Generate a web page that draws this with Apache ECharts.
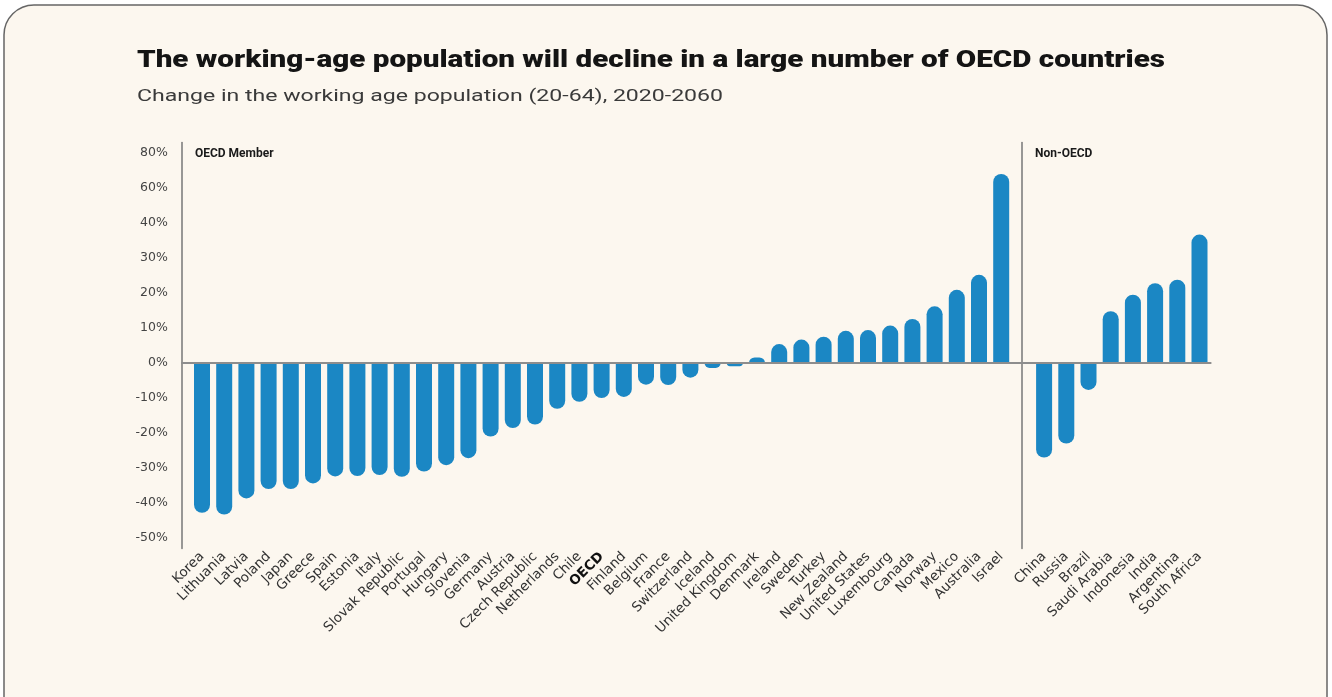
<!DOCTYPE html>
<html>
<head>
<meta charset="utf-8">
<script src="https://cdn.jsdelivr.net/npm/echarts@6/dist/echarts.min.js"></script>
<style>
html,body{margin:0;padding:0;background:#ffffff;}
#c{width:1332px;height:697px;}
</style>
</head>
<body>
<div id="c"></div>
<script>
// ---- data (values in the chart's own y-scale units) ----
const oecdCategories = ['Korea','Lithuania','Latvia','Poland','Japan','Greece','Spain','Estonia','Italy','Slovak Republic','Portugal','Hungary','Slovenia','Germany','Austria','Czech Republic','Netherlands','Chile','OECD','Finland','Belgium','France','Switzerland','Iceland','United Kingdom','Denmark','Ireland','Sweden','Turkey','New Zealand','United States','Luxembourg','Canada','Norway','Mexico','Australia','Israel'];
const oecdValues = [-42.8,-43.3,-38.7,-36,-36,-34.4,-32.4,-32.3,-32,-32.5,-31,-29.2,-27.2,-21,-18.6,-17.6,-13.1,-11.1,-10,-9.7,-6.2,-6.3,-4.2,-1.4,-0.9,1.6,5.4,6.7,7.5,9.2,9.4,10.7,12.6,16.2,20.9,25.2,54];
const nonOecdCategories = ['China','Russia','Brazil','Saudi Arabia','Indonesia','India','Argentina','South Africa'];
const nonOecdValues = [-27,-23,-7.7,14.8,19.5,22.8,23.8,36.7];
const yTickValues = [-50,-40,-30,-20,-10,0,10,20,30,40,50,60];
const yTickLabels = ['-50%','-40%','-30%','-20%','-10%','0%','10%','20%','30%','40%','60%','80%'];
const titleText = 'The working-age population will decline in a large number of OECD countries';
const subtitleText = 'Change in the working age population (20-64), 2020-2060';

const BAR = '#1b87c4';
const LABEL_FONT = 'DejaVu Sans';
const Y_MIN = -53, Y_MAX = 63;

function fitScale(text, font, target){
  const ctx = document.createElement('canvas').getContext('2d');
  ctx.font = font;
  return target / ctx.measureText(text).width;
}
function barData(vals){
  return vals.map(v => ({value: v, itemStyle: {borderRadius: v >= 0 ? [8,8,0,0] : [0,0,8,8]}}));
}
function catLabel(){
  return {
    rotate: 45, interval: 0, fontSize: 13.5, color: '#333', fontFamily: LABEL_FONT, margin: 6,
    formatter: v => v === 'OECD' ? '{b|' + v + '}' : v,
    rich: {b: {fontWeight: 'bold', fontSize: 13.5, color: '#111', fontFamily: LABEL_FONT}}
  };
}

const titleFont = '900 24px Roboto';
const subFont = '17px Roboto';
const titleScale = fitScale(titleText, titleFont, 1028);
const subScale = fitScale(subtitleText, subFont, 586);

const chart = echarts.init(document.getElementById('c'), null, {renderer: 'canvas'});
const gTop = 142.5, gBottom = 697 - 548.5;

chart.setOption({
  backgroundColor: '#ffffff',
  animation: false,
  graphic: [
    {type: 'rect', z: -10, silent: true,
     shape: {x: 4, y: 5, width: 1323, height: 740, r: 30},
     style: {fill: '#fcf7ef', stroke: '#666', lineWidth: 1.5}},
    {type: 'text', x: 137, y: 61, scaleX: titleScale, silent: true,
     style: {text: titleText, font: titleFont, fill: '#141414', align: 'left', verticalAlign: 'middle'}},
    {type: 'text', x: 137, y: 97, scaleX: subScale, silent: true,
     style: {text: subtitleText, font: subFont, fill: '#3a3a3a', align: 'left', verticalAlign: 'middle'}}
  ],
  grid: [
    {left: 190.9, right: 1332 - 1012.3, top: gTop, bottom: gBottom},
    {left: 1033, right: 1332 - 1210.6, top: gTop, bottom: gBottom},
    {left: 182, right: 1332 - 1210.6, top: gTop, bottom: gBottom}
  ],
  xAxis: [
    {type: 'category', gridIndex: 0, data: oecdCategories,
     axisLine: {show: false, onZero: false}, axisTick: {show: false}, axisLabel: catLabel()},
    {type: 'category', gridIndex: 1, data: nonOecdCategories,
     axisLine: {show: false, onZero: false}, axisTick: {show: false}, axisLabel: catLabel()},
    {type: 'value', gridIndex: 2, min: 0, max: 1, z: 20,
     axisLine: {show: true, onZero: true, lineStyle: {color: '#8d8d8d', width: 2}},
     axisTick: {show: false}, axisLabel: {show: false}, splitLine: {show: false}}
  ],
  yAxis: [
    {type: 'value', gridIndex: 0, min: Y_MIN, max: Y_MAX, offset: 9,
     name: 'OECD Member', nameLocation: 'end', nameGap: -11,
     nameTextStyle: {align: 'left', verticalAlign: 'middle', padding: [0,0,0,13], fontFamily: 'Roboto', fontWeight: 'bold', fontSize: 12, color: '#1a1a1a'},
     axisLine: {show: true, lineStyle: {color: '#777', width: 1.5}},
     axisTick: {show: false}, splitLine: {show: false},
     axisLabel: {customValues: yTickValues, margin: 14, fontSize: 12.5, color: '#444', fontFamily: LABEL_FONT,
       formatter: v => yTickLabels[yTickValues.indexOf(Math.round(v))] || ''}},
    {type: 'value', gridIndex: 1, min: Y_MIN, max: Y_MAX, offset: 11,
     name: 'Non-OECD', nameLocation: 'end', nameGap: -11,
     nameTextStyle: {align: 'left', verticalAlign: 'middle', padding: [0,0,0,13], fontFamily: 'Roboto', fontWeight: 'bold', fontSize: 12, color: '#1a1a1a'},
     axisLine: {show: true, lineStyle: {color: '#777', width: 1.5}},
     axisTick: {show: false}, splitLine: {show: false}, axisLabel: {show: false}},
    {type: 'value', gridIndex: 2, min: Y_MIN, max: Y_MAX, show: false}
  ],
  series: [
    {type: 'bar', xAxisIndex: 0, yAxisIndex: 0, data: barData(oecdValues), barWidth: 16,
     itemStyle: {color: BAR}},
    {type: 'bar', xAxisIndex: 1, yAxisIndex: 1, data: barData(nonOecdValues), barWidth: 16,
     itemStyle: {color: BAR}}
  ]
});
</script>
</body>
</html>
